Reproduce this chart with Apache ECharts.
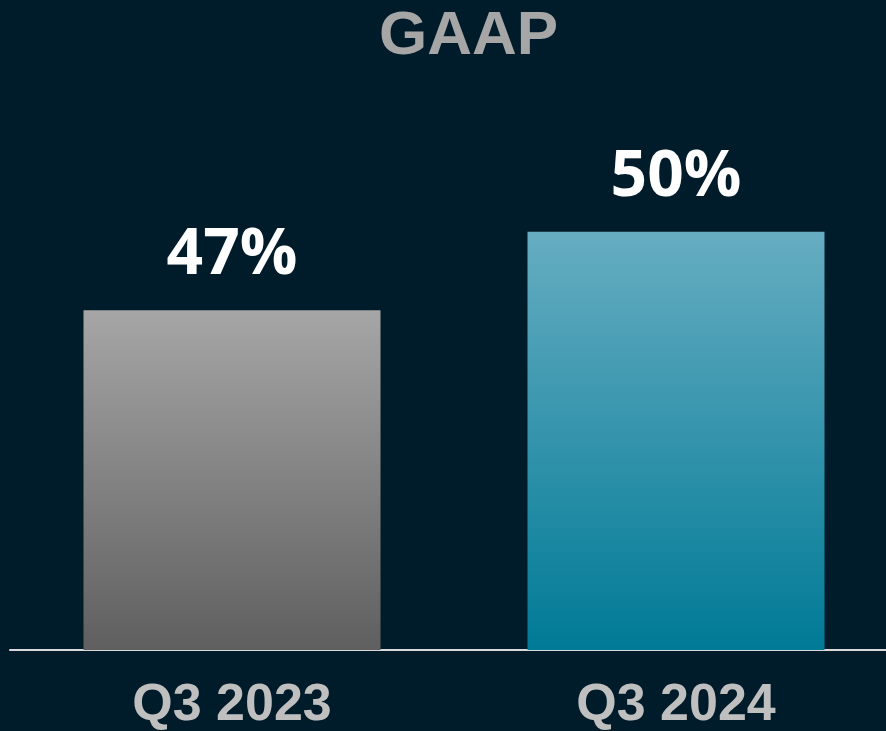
<!DOCTYPE html>
<html>
<head>
<meta charset="utf-8">
<title>GAAP</title>
<script src="https://cdn.jsdelivr.net/npm/echarts@6/dist/echarts.min.js"></script>
<style>
  html, body { margin: 0; padding: 0; background: #001c2a; }
  #chart { width: 886px; height: 731px; }
</style>
</head>
<body>
<div id="chart"></div>
<script>
const categories = ['Q3 2023', 'Q3 2024'];
const values = [47, 50];
const barGradients = [
    ['#a6a6a6', '#5f5f5f'],
    ['#66adc1', '#007a96']
];

const chart = echarts.init(document.getElementById('chart'));

chart.setOption({
    backgroundColor: '#001c2a',
    animation: false,
    title: {
        text: 'GAAP',
        left: 374,
        top: 1,
        textStyle: {
            color: '#a6a6a6',
            fontFamily: 'Liberation Sans, Arial, sans-serif',
            fontWeight: 'bold',
            fontSize: 62
        }
    },
    grid: { left: 10, right: -12, top: 101, bottom: 81, outerBoundsMode: 'none', containLabel: false },
    xAxis: {
        type: 'category',
        data: categories,
        axisLine: { show: true, onZero: false, lineStyle: { color: '#d9d9d9', width: 2 } },
        axisTick: { show: false },
        axisLabel: {
            color: '#bfbfbf',
            fontFamily: 'Liberation Sans, Arial, sans-serif',
            fontWeight: 'bold',
            fontSize: 52,
            margin: 30
        }
    },
    yAxis: {
        type: 'value',
        min: 34,
        max: 55,
        show: false,
        splitLine: { show: false }
    },
    series: [{
        type: 'bar',
        barWidth: 297,
        data: values.map((v, i) => ({
            value: v,
            itemStyle: {
                color: new echarts.graphic.LinearGradient(0, 0, 0, 1, [
                    { offset: 0, color: barGradients[i][0] },
                    { offset: 1, color: barGradients[i][1] }
                ])
            }
        })),
        label: {
            show: true,
            position: 'top',
            distance: 22,
            formatter: '{c}%',
            color: '#ffffff',
            fontFamily: 'Open Sans, Noto Sans, sans-serif',
            fontWeight: 'bold',
            fontSize: 64
        }
    }]
});
</script>
</body>
</html>
